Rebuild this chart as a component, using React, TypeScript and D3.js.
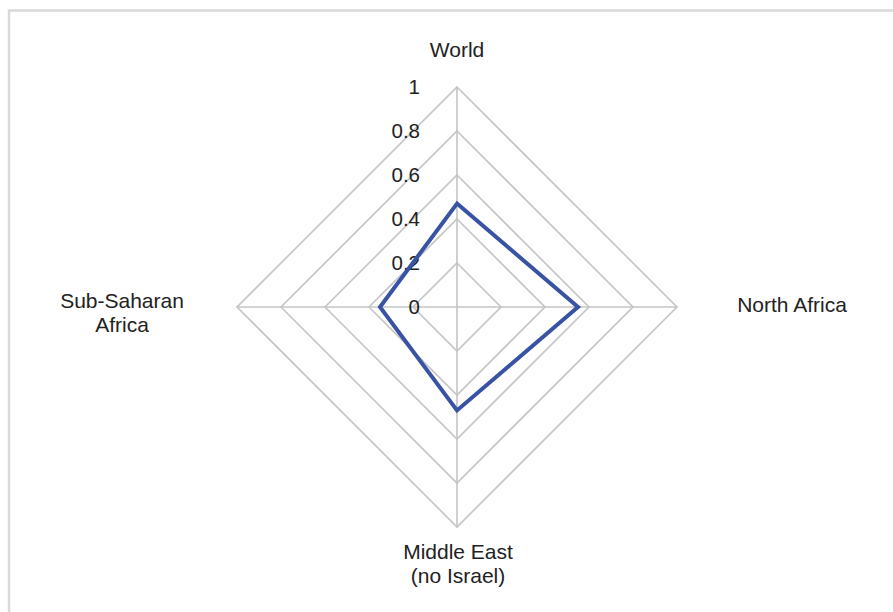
import { useEffect, useRef } from "react";
import * as d3 from "d3";

const categories = ["World", "North Africa", "Middle East\n(no Israel)", "Sub-Saharan\nAfrica"];
const values = [0.47, 0.55, 0.47, 0.35];
const ticks = [0, 0.2, 0.4, 0.6, 0.8, 1];

export default function App() {
  const ref = useRef<SVGSVGElement>(null);

  useEffect(() => {
    const width = 893;
    const height = 612;
    const cx = 457;
    const cy = 307;
    const svg = d3.select(ref.current);
    svg.selectAll("*").remove();
    svg.attr("viewBox", `0 0 ${width} ${height}`);

    svg.append("rect").attr("width", width).attr("height", height).attr("fill", "#fff");

    // outer frame, cut by the right and bottom edges
    svg.append("rect")
      .attr("x", 9).attr("y", 10.5)
      .attr("width", 900).attr("height", 700)
      .attr("fill", "none")
      .attr("stroke", "#d9d9d9")
      .attr("stroke-width", 2.5);

    const r = d3.scaleLinear().domain([0, 1]).range([0, 220]);
    const angle = d3.scalePoint<number>()
      .domain(d3.range(categories.length + 1))
      .range([0, 2 * Math.PI]);

    const g = svg.append("g").attr("transform", `translate(${cx},${cy})`);
    const font = "'Liberation Sans', Arial, Helvetica, sans-serif";

    // rings
    const ring = d3.lineRadial<number>()
      .angle((_, i) => angle(i)!)
      .curve(d3.curveLinearClosed);
    g.selectAll("path.ring")
      .data(ticks.filter(t => t > 0))
      .join("path")
      .attr("class", "ring")
      .attr("d", t => ring.radius(() => r(t))(categories.map(() => t)))
      .attr("fill", "none")
      .attr("stroke", "#c4c4c4")
      .attr("stroke-width", 1.6);

    // spokes
    g.selectAll("line.spoke")
      .data(categories)
      .join("line")
      .attr("class", "spoke")
      .attr("x1", 0).attr("y1", 0)
      .attr("x2", (_, i) => r(1) * Math.sin(angle(i)!))
      .attr("y2", (_, i) => -r(1) * Math.cos(angle(i)!))
      .attr("stroke", "#c4c4c4")
      .attr("stroke-width", 1.6);

    // tick labels
    g.selectAll("text.tick")
      .data(ticks)
      .join("text")
      .attr("class", "tick")
      .attr("x", -37)
      .attr("y", t => -r(t) + 7)
      .attr("text-anchor", "end")
      .attr("font-family", font)
      .attr("font-size", 20.5)
      .attr("fill", "#222")
      .text(t => String(t));

    // series
    const line = d3.lineRadial<number>()
      .angle((_, i) => angle(i)!)
      .radius(d => r(d))
      .curve(d3.curveLinearClosed);
    g.append("path")
      .attr("d", line(values))
      .attr("fill", "none")
      .attr("stroke", "#3953a4")
      .attr("stroke-width", 4)
      .attr("stroke-linejoin", "miter");

    // category labels
    const labelPos = [
      { x: 0, y: -250 },
      { x: 335, y: 5 },
      { x: 1, y: 252 },
      { x: -335, y: 1 },
    ];
    categories.forEach((c, i) => {
      const t = g.append("text")
        .attr("text-anchor", "middle")
        .attr("font-family", font)
        .attr("font-size", 21)
        .attr("fill", "#222");
      c.split("\n").forEach((s, j) => {
        t.append("tspan")
          .attr("x", labelPos[i].x)
          .attr("y", labelPos[i].y + j * 24)
          .text(s);
      });
    });
  }, []);

  return (
    <svg
      ref={ref}
      width={893}
      height={612}
      style={{ position: "absolute", left: 0, top: 0, display: "block" }}
    />
  );
}
